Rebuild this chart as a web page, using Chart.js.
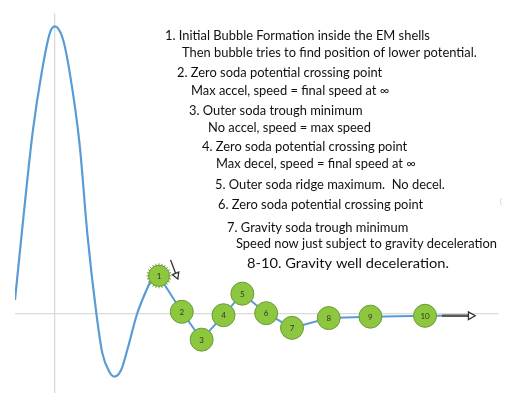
<!DOCTYPE html>
<html>
<head>
<meta charset="utf-8">
<script src="https://cdn.jsdelivr.net/npm/chart.js@4.4.1/dist/chart.umd.min.js"></script>
<style>
  html, body { margin: 0; padding: 0; background: #fff; }
  #wrap { width: 512px; height: 406px; position: relative; }
</style>
</head>
<body>
<div id="wrap"><canvas id="myChart"></canvas></div>
<script>
// potential curve (x: distance, y: potential)
const curveX = [-4.0, -3.0, -2.2, -1.3, -0.5, 0, 0.8, 1.5, 2.5, 3.3, 4.2, 4.8, 5.5, 6.0, 6.7, 7.3, 8.3, 9.2, 9.8, 10.5];
const curveY = [0.48, 3.87, 6.37, 8.42, 9.76, 10.0, 9.59, 8.42, 5.92, 2.74, 0, -1.37, -2.02, -2.19, -1.95, -1.27, 0, 0.79, 1.20, 1.32];

// bubble positions 1..10
const stopLabels = ["1", "2", "3", "4", "5", "6", "7", "8", "9", "10"];
const stopX = [10.5, 12.8, 14.8, 17.0, 18.9, 21.3, 23.9, 27.6, 31.8, 37.3];
const stopY = [1.32, 0.07, -0.90, -0.05, 0.70, 0.02, -0.49, -0.15, -0.10, -0.07];
const tailX = 42.3;
const tailY = -0.07;

// arrows
const arrow1X = [11.67, 12.25];
const arrow1Y = [1.87, 1.34];
const arrow2X = [39.0, 41.9];
const arrow2Y = [-0.07, -0.07];

const notes = [
  "1. Initial Bubble Formation inside the EM shells",
  "Then bubble tries to find position of lower potential.",
  "2. Zero soda potential crossing point",
  "Max accel, speed = final speed at \u221E",
  "3. Outer soda trough minimum",
  "No accel, speed = max speed",
  "4. Zero soda potential crossing point",
  "Max decel, speed = final speed at \u221E",
  "5. Outer soda ridge maximum.  No decel.",
  "6. Zero soda potential crossing point",
  "7. Gravity soda trough minimum",
  "Speed now just subject to gravity deceleration",
  "8-10. Gravity well deceleration."
];
// left x, middle y, font px, horizontal stretch
const notePos = [
  [165, 36, 12.9, 1], [182, 53, 12.9, 1], [177, 73, 12.9, 1], [191, 91, 12.9, 1],
  [189, 111, 12.9, 1], [208, 128, 12.9, 1], [202, 147, 12.9, 1], [216, 164, 12.9, 1],
  [215, 185, 12.9, 1], [218, 205, 12.9, 1], [227, 228, 12.9, 1], [236, 244, 12.9, 1],
  [247, 264, 13.6, 1.08]
];

const BLUE = "#5b9bd5";
const GREEN = "#8dc63f";
const GREEN_EDGE = "#6b9a3a";

const toPts = (xs, ys) => xs.map((x, i) => ({ x: x, y: ys[i] }));

const notesPlugin = {
  id: "notes",
  afterDraw(chart) {
    const ctx = chart.ctx;
    ctx.save();
    ctx.fillStyle = "#111";
    ctx.textBaseline = "middle";
    notes.forEach((t, i) => {
      const [x, y, s, k] = notePos[i];
      ctx.save();
      ctx.font = s + "px Lato, 'Open Sans', sans-serif";
      ctx.translate(x, y);
      ctx.scale(k, 1);
      ctx.fillText(t, 0, 0);
      ctx.restore();
    });
    ctx.fillStyle = "#c8c8c8";
    ctx.font = "8px Lato, sans-serif";
    ctx.fillText("(", 500, 201);
    ctx.restore();
  }
};

const numberPlugin = {
  id: "numbers",
  afterDatasetsDraw(chart) {
    const meta = chart.getDatasetMeta(1);
    const ctx = chart.ctx;
    ctx.save();
    ctx.fillStyle = "#2e3b1c";
    ctx.font = "8px Lato, sans-serif";
    ctx.textAlign = "center";
    ctx.textBaseline = "middle";
    stopLabels.forEach((s, i) => {
      const p = meta.data[i];
      ctx.fillText(s, p.x, p.y + 0.5);
    });
    ctx.restore();
  }
};

const canvas = document.getElementById("myChart");
const ctx = canvas.getContext("2d");

new Chart(ctx, {
  type: "scatter",
  data: {
    datasets: [
      {
        label: "potential",
        data: toPts(curveX, curveY),
        showLine: true,
        borderColor: BLUE,
        borderWidth: 2.2,
        pointRadius: 0,
        cubicInterpolationMode: "monotone",
        order: 4,
      },
      {
        label: "bubble",
        data: toPts(stopX.concat([tailX]), stopY.concat([tailY])),
        showLine: true,
        tension: 0,
        borderColor: BLUE,
        borderWidth: 2,
        pointRadius: stopX.map((x, i) => (i === 0 ? 10.5 : 11.5)).concat([0]),
        pointBackgroundColor: GREEN,
        pointBorderColor: GREEN_EDGE,
        pointBorderWidth: 1,
        order: 1,
      },
      {
        label: "spikes",
        data: toPts([stopX[0], stopX[0], stopX[0]], [stopY[0], stopY[0], stopY[0]]),
        pointStyle: "star",
        pointRadius: 12.5,
        pointRotation: [0, 15, 30],
        pointBorderColor: GREEN_EDGE,
        pointBorderWidth: 1,
        order: 2,
      },
      {
        label: "arrow1",
        data: toPts(arrow1X, arrow1Y),
        showLine: true,
        borderColor: "#333",
        borderWidth: 1.3,
        pointStyle: "triangle",
        pointRadius: [0, 4],
        pointRotation: [0, 157.6],
        pointBackgroundColor: "#fff",
        pointBorderColor: "#333",
        pointBorderWidth: 1.3,
        order: 0,
      },
      {
        label: "arrow2",
        data: toPts(arrow2X, arrow2Y),
        showLine: true,
        borderColor: "#595959",
        borderWidth: 2.5,
        pointStyle: "triangle",
        pointRadius: [0, 4.5],
        pointRotation: [0, 90],
        pointBackgroundColor: "#fff",
        pointBorderColor: "#333",
        pointBorderWidth: 1.3,
        order: 0,
      },
    ],
  },
  options: {
    responsive: true,
    maintainAspectRatio: false,
    animation: false,
    layout: { padding: { left: 15, right: 10, top: 8, bottom: 13 } },
    plugins: {
      legend: { display: false },
      tooltip: { enabled: false },
    },
    scales: {
      x: {
        type: "linear",
        min: -4,
        max: 44.7,
        border: { display: false },
        ticks: { display: false, stepSize: 1 },
        grid: {
          drawTicks: false,
          lineWidth: 1.3,
          color: (c) => (c.tick && c.tick.value === 0 ? "#d9d9d9" : "rgba(0,0,0,0)"),
        },
      },
      y: {
        type: "linear",
        min: -2.74,
        max: 10.45,
        border: { display: false },
        ticks: { display: false, stepSize: 1 },
        grid: {
          drawTicks: false,
          lineWidth: 1.3,
          color: (c) => (c.tick && c.tick.value === 0 ? "#d9d9d9" : "rgba(0,0,0,0)"),
        },
      },
    },
  },
  plugins: [notesPlugin, numberPlugin],
});
</script>
</body>
</html>
